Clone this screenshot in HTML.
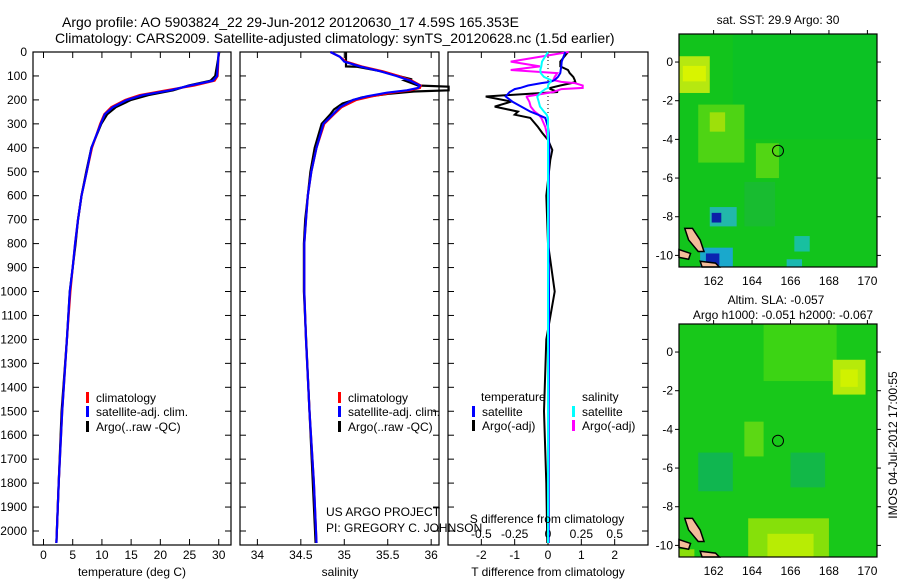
<!DOCTYPE html>
<html><head><meta charset="utf-8">
<style>
html,body{margin:0;padding:0;background:#fff;}
svg{display:block;font-family:"Liberation Sans",sans-serif;}
</style></head>
<body>
<svg id="fig" width="900" height="580" viewBox="0 0 900 580" xmlns="http://www.w3.org/2000/svg">
<text x="62" y="27" font-size="14">Argo profile: AO 5903824_22 29-Jun-2012 20120630_17 4.59S 165.353E</text>
<text x="55" y="43" font-size="14">Climatology: CARS2009. Satellite-adjusted climatology: synTS_20120628.nc (1.5d earlier)</text>
<g id="plots"></g>
</svg>
<script>
// ---------- data ----------
const depthsT = [0,100,120,140,160,180,200,230,260,300,400,500,600,700,800,900,1000,1200,1500,1800,2050];
const tempSat = [30.0,29.7,29.0,25.1,21.7,17.0,14.3,11.9,10.5,9.8,8.2,7.4,6.5,5.9,5.4,5.0,4.5,4.0,3.2,2.6,2.2];
const tempClim = [30.0,29.8,29.3,25.8,21.0,16.5,14.0,11.6,10.4,9.7,8.3,7.4,6.5,5.9,5.4,5.0,4.6,4.0,3.2,2.6,2.2];
const tempArgo = [30.1,29.4,28.6,24.9,22.2,18.0,15.0,12.4,10.9,9.9,8.2,7.3,6.5,5.9,5.5,5.0,4.5,4.0,3.1,2.6,2.2];
const depthsS = [0,20,40,60,80,100,120,140,150,160,170,185,200,230,260,300,400,500,600,700,800,1000,1200,1500,1800,2050];
const salSat = [34.84,34.95,35.0,35.18,35.41,35.6,35.76,35.87,35.85,35.72,35.49,35.26,35.1,34.95,34.87,34.76,34.68,34.62,34.58,34.56,34.54,34.54,34.56,34.6,34.65,34.68];
const salClim = [34.84,34.95,35.02,35.2,35.44,35.63,35.78,35.88,35.87,35.76,35.55,35.32,35.14,34.97,34.88,34.77,34.68,34.62,34.58,34.56,34.54,34.54,34.56,34.6,34.65,34.68];
const depthsSA = [0,30,60,62,80,100,115,120,140,145,150,160,165,175,190,215,240,260,300,400,500,700,800,1000,1500,2050];
const salArgo = [35.02,35.02,35.02,35.15,35.42,35.62,35.78,35.7,35.85,36.2,36.2,36.2,35.8,35.5,35.2,34.98,34.88,34.84,34.74,34.66,34.61,34.55,34.535,34.535,34.6,34.67];
const depthsD = [0,40,60,75,88,104,117,125,130,140,150,155,167,186,188,207,228,249,262,275,313,338,367,409,450,600,800,1000,1200,1500,1800,2050];
const dTSat = [0.52,0.41,0.40,0.38,0.37,0.3,0.2,0.07,-0.2,-0.6,-0.83,-1.0,-1.15,-1.27,-1.25,-1.07,-0.8,-0.53,-0.3,-0.08,0.0,0.02,0.03,0.04,0.03,0.02,0.02,0.03,0.03,0.02,0.02,0.02];
const dTArgo = [0.6,0.37,0.37,0.6,0.65,0.76,0.8,0.82,0.7,0.37,0.07,0.07,0.3,-1.87,-1.8,-1.1,-1.6,-0.9,-1.0,-0.53,-0.3,-0.17,0.0,0.13,0.07,-0.05,0.0,0.2,-0.05,-0.12,-0.05,-0.02];
const dSSat = [0.0,-0.045,-0.05,-0.058,-0.055,-0.03,0.02,0.02,0.01,0.0,0.0,-0.02,-0.05,-0.08,-0.08,-0.07,-0.06,-0.03,-0.01,0.0,0.0,0.0,0.0,0.0,0.0,0.0,0.0,0.0,0.0,0.0,0.0,0.0];
const dSArgo = [0.155,-0.28,-0.06,-0.28,0.07,0.05,0.04,0.1,0.2,0.26,0.26,0.1,0.04,-0.16,-0.16,-0.14,-0.13,-0.1,-0.07,-0.05,-0.02,-0.01,0.0,0.0,0.0,0.0,0.0,0.0,0.0,0.0,0.0,0.0];
const depthTicks = [0,100,200,300,400,500,600,700,800,900,1000,1100,1200,1300,1400,1500,1600,1700,1800,1900,2000];
const tempTicks = [0,5,10,15,20,25,30];
const salTicks = [34,34.5,35,35.5,36];
const salTickLabels = ["34","34.5","35","35.5","36"];
const dTTicks = [-2,-1,0,1,2];
const dSTicks = [-0.5,-0.25,0,0.25,0.5];
const dSTickLabels = ["-0.5","-0.25","0","0.25","0.5"];
const latTicks = [0,-2,-4,-6,-8,-10];
const lonTicks = [162,164,166,168,170];
const argoLon = [165.35];
const argoLat = [-4.59];

// ---------- helpers ----------
const NS = "http://www.w3.org/2000/svg";
const root = document.getElementById('plots');
function mk(tag, attrs, parent){
  const e = document.createElementNS(NS, tag);
  for (const k in attrs) e.setAttribute(k, attrs[k]);
  (parent||root).appendChild(e);
  return e;
}
function txt(s, x, y, size, anchor, parent){
  const t = mk('text', {x:x, y:y, 'font-size':size, 'text-anchor':anchor||'start'}, parent);
  t.textContent = s;
  return t;
}
const TOP = 52, BOT = 545;
const yD = d => TOP + d * 0.2395;

function panel(name, x0, x1, xmin, xmax){
  const g = mk('g', {});
  
  
  const fx = v => x0 + (v - xmin) / (xmax - xmin) * (x1 - x0);
  mk('rect', {x:x0, y:TOP, width:x1-x0, height:BOT-TOP, fill:'none', stroke:'#000', 'stroke-width':1.2}, g);
  depthTicks.forEach(d => {
    mk('line', {x1:x0, x2:x0+6, y1:yD(d), y2:yD(d), stroke:'#000'}, g);
    mk('line', {x1:x1-6, x2:x1, y1:yD(d), y2:yD(d), stroke:'#000'}, g);
  });
  return {g, fx};
}
function profile(p, depths, vals, color, name, w){
  const pts = depths.map((d,i) => p.fx(vals[i]).toFixed(1) + ',' + yD(d).toFixed(1)).join(' ');
  const l = mk('polyline', {points:pts, fill:'none', stroke:color, 'stroke-width':w||2.2, 'stroke-linejoin':'miter'}, p.g);
  
  
  return l;
}
function xticks(p, ticks, labels, y0, bottomTicks){
  ticks.forEach((v,i) => {
    const x = p.fx(v);
    if (bottomTicks){
      mk('line', {x1:x, x2:x, y1:TOP, y2:TOP+6, stroke:'#000'}, p.g);
      mk('line', {x1:x, x2:x, y1:BOT-6, y2:BOT, stroke:'#000'}, p.g);
    }
    const t = txt(labels ? labels[i] : String(v), x, y0, 12, 'middle', p.g);
    
    
  });
}
function legend(g, x, y, color, label){
  mk('rect', {x:x, y:y-10, width:3, height:11, fill:color}, g);
  const t = txt(label, x+10, y, 12, 'start', g);
  
  
}

// ---------- panel 1: temperature ----------
const p1 = panel('temperature-panel', 33, 231, -1.8, 32.1);
xticks(p1, tempTicks, null, 559, true);
depthTicks.forEach(d => {
  const t = txt(String(d), 27, yD(d)+4, 12, 'end', p1.g);
  
  
});
profile(p1, depthsT, tempArgo, '#000', 'temp-argo-line');
profile(p1, depthsT, tempClim, '#f00', 'temp-climatology-line');
profile(p1, depthsT, tempSat, '#00f', 'temp-satellite-line');
const xl1 = txt('temperature (deg C)', 132, 576, 12, 'middle', p1.g);


legend(p1.g, 86, 402, '#f00', 'climatology');
legend(p1.g, 86, 416, '#00f', 'satellite-adj. clim.');
legend(p1.g, 86, 431, '#000', 'Argo(..raw -QC)');

// ---------- panel 2: salinity ----------
const p2 = panel('salinity-panel', 240, 439, 33.8, 36.09);
xticks(p2, salTicks, salTickLabels, 559, true);
profile(p2, depthsSA, salArgo, '#000', 'sal-argo-line');
profile(p2, depthsS, salClim, '#f00', 'sal-climatology-line');
profile(p2, depthsS, salSat, '#00f', 'sal-satellite-line');
const xl2 = txt('salinity', 340, 576, 12, 'middle', p2.g);


legend(p2.g, 338, 402, '#f00', 'climatology');
legend(p2.g, 338, 416, '#00f', 'satellite-adj. clim.');
legend(p2.g, 338, 431, '#000', 'Argo(..raw -QC)');
const c1 = txt('US ARGO PROJECT', 326, 516, 12, 'start', p2.g);


const c2 = txt('PI: GREGORY C. JOHNSON', 326, 532, 12, 'start', p2.g);



// ---------- panel 3: differences ----------
const p3 = panel('difference-panel', 448, 648, -3, 3);
xticks(p3, dTTicks, null, 559, true);
const fS = v => p3.fx(v*4);
dSTicks.forEach((v,i) => {
  const t = txt(dSTickLabels[i], fS(v), 538, 12, 'middle', p3.g);
  
  
});
mk('line', {x1:p3.fx(0), x2:p3.fx(0), y1:TOP, y2:yD(450), stroke:'#000', 'stroke-dasharray':'1,3'}, p3.g);
profile(p3, depthsD, dTArgo, '#000', 'dT-argo-line', 2);
profile(p3, depthsD, dSArgo.map(v=>v*4), '#f0f', 'dS-argo-line', 2);
profile(p3, depthsD, dTSat, '#00f', 'dT-satellite-line', 2);
profile(p3, depthsD, dSSat.map(v=>v*4), '#0ff', 'dS-satellite-line', 2);
const xl3 = txt('T difference from climatology', 548, 576, 12, 'middle', p3.g);


const xl3b = txt('S difference from climatology', 547, 523, 12, 'middle', p3.g);


const lh1 = txt('temperature', 481, 401, 12, 'start', p3.g);


const lh2 = txt('salinity', 582, 401, 12, 'start', p3.g);


legend(p3.g, 472, 416, '#00f', 'satellite');
legend(p3.g, 472, 430, '#000', 'Argo(-adj)');
legend(p3.g, 572, 416, '#0ff', 'satellite');
legend(p3.g, 572, 430, '#f0f', 'Argo(-adj)');

// ---------- maps ----------
const mapPatches1 = [
  [160.2,170.5,-10.6,1.45,'#12c41c'],
  [163,170.5,-4,1.45,'#0cc224'],
  [160.2,161.8,-1.6,0.3,'#b6e810'],
  [160.4,161.6,-1.0,-0.2,'#d8f400'],
  [161.2,163.6,-5.2,-2.2,'#4ed414'],
  [161.8,162.6,-3.6,-2.6,'#9ee00a'],
  [164.2,165.4,-6.0,-4.2,'#52d614'],
  [163.6,165.2,-8.5,-6.2,'#18bc30'],
  [161.8,163.2,-8.5,-7.5,'#22b8aa'],
  [161.9,162.4,-8.3,-7.8,'#0b20a8'],
  [161.3,163.0,-10.6,-9.6,'#1aa8cc'],
  [161.6,162.3,-10.5,-9.9,'#0b24b0'],
  [166.2,167.0,-9.8,-9.0,'#18c0a0'],
  [165.8,166.6,-10.6,-10.2,'#1ab8b0']
];
const mapPatches2 = [
  [160.2,170.5,-10.6,1.45,'#18c81a'],
  [164.6,168.4,-1.5,1.45,'#3cd414'],
  [168.2,169.9,-2.2,-0.4,'#b6ea0a'],
  [168.6,169.5,-1.8,-0.9,'#d0f200'],
  [163.6,164.6,-5.4,-3.6,'#5cd814'],
  [161.2,163.0,-7.2,-5.2,'#10b650'],
  [166.0,167.8,-7.0,-5.2,'#12b848'],
  [163.8,168.0,-10.6,-8.6,'#86e00a'],
  [164.8,167.2,-10.6,-9.4,'#b8ec04'],
  [170.0,170.5,1.45,0.6,'#b6e810'],
  [160.2,161.0,-10.6,-10.2,'#8ade0a']
];
function drawMap(name, mx0, my0, mx1, my1, patches, title, labelY){
  const g = mk('g', {});
  
  
  const lon0 = 160.2, lon1 = 170.5, lat0 = 1.45, lat1 = -10.6;
  const fx = v => mx0 + (v-lon0)/(lon1-lon0)*(mx1-mx0);
  const fy = v => my0 + (v-lat0)/(lat1-lat0)*(my1-my0);
  patches.forEach(p => {
    mk('rect', {x:fx(p[0]), y:fy(p[3]), width:fx(p[1])-fx(p[0]), height:fy(p[2])-fy(p[3]), fill:p[4]}, g);
  });
  const isl = [[160.5,-8.6],[160.9,-8.6],[161.3,-9.2],[161.5,-9.8],[161.2,-9.8],[160.7,-9.2]];
  mk('polygon', {points:isl.map(p=>fx(p[0])+','+fy(p[1])).join(' '), fill:'#f4bc9a', stroke:'#000', 'stroke-width':1.5}, g);
  const isl2 = [[160.2,-9.7],[160.8,-9.9],[160.7,-10.2],[160.2,-10.1]];
  mk('polygon', {points:isl2.map(p=>fx(p[0])+','+fy(p[1])).join(' '), fill:'#f4bc9a', stroke:'#000', 'stroke-width':1.5}, g);
  const isl3 = [[161.3,-10.3],[162.1,-10.4],[162.3,-10.6],[161.4,-10.6]];
  mk('polygon', {points:isl3.map(p=>fx(p[0])+','+fy(p[1])).join(' '), fill:'#f4bc9a', stroke:'#000', 'stroke-width':1.5}, g);
  mk('rect', {x:mx0, y:my0, width:mx1-mx0, height:my1-my0, fill:'none', stroke:'#000', 'stroke-width':1.2}, g);
  latTicks.forEach(v => {
    mk('line', {x1:mx0-4, x2:mx0, y1:fy(v), y2:fy(v), stroke:'#000'}, g);
    mk('line', {x1:mx1, x2:mx1+4, y1:fy(v), y2:fy(v), stroke:'#000'}, g);
    const t = txt(String(v), 673, fy(v)+4, 12, 'end', g);
    
    
  });
  lonTicks.forEach(v => {
    mk('line', {x1:fx(v), x2:fx(v), y1:my0-4, y2:my0, stroke:'#000'}, g);
    const t = txt(String(v), fx(v), labelY, 12, 'middle', g);
    
    
  });
  const c = mk('circle', {cx:fx(argoLon[0]), cy:fy(argoLat[0]), r:5.5, fill:'none', stroke:'#000', 'stroke-width':1}, g);
  
  
  title.forEach((s,i) => {
    const t = txt(s[0], s[1], s[2], 12, 'middle', g);
    
    
  });
}
drawMap('sst-map', 679, 34, 877, 267, mapPatches1, [['sat. SST: 29.9 Argo: 30', 778, 24]], 285);
drawMap('sla-map', 679, 324, 877, 557, mapPatches2, [['Altim. SLA: -0.057', 776, 304], ['Argo h1000: -0.051 h2000: -0.067', 783, 319]], 575);
const stamp = txt('IMOS 04-Jul-2012 17:00:55', 0, 0, 12, 'middle');
stamp.setAttribute('transform', 'translate(897,445) rotate(-90)');


</script>
</body></html>
